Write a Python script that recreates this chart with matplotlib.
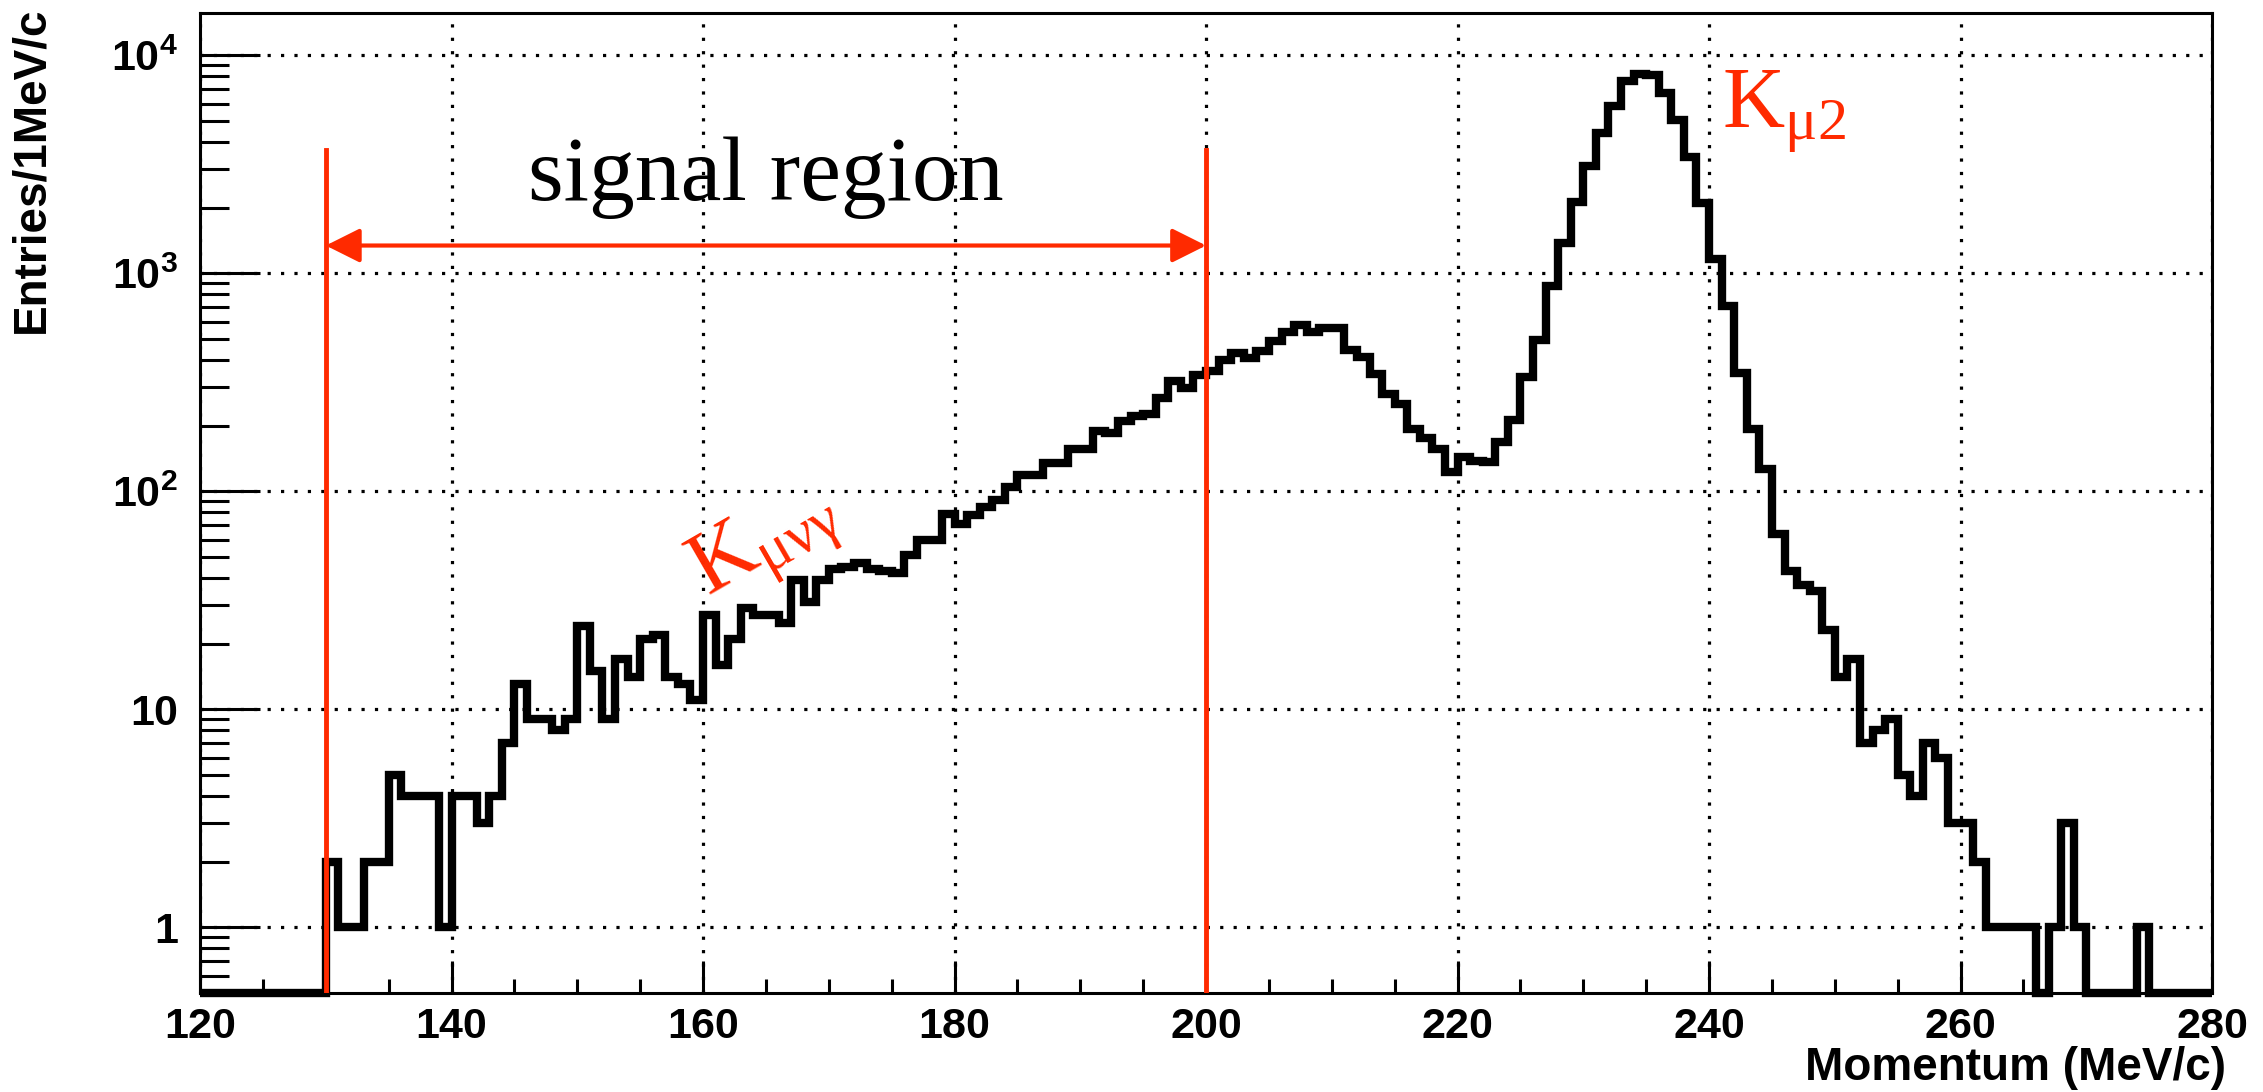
import numpy as np
import matplotlib
matplotlib.use('Agg')
import matplotlib.pyplot as plt
from matplotlib.ticker import LogLocator, NullFormatter, MultipleLocator

plt.rcParams['font.family'] = ['Liberation Sans', 'DejaVu Sans']
plt.rcParams['mathtext.fontset'] = 'custom'
plt.rcParams['mathtext.rm'] = 'Liberation Serif'
plt.rcParams['mathtext.it'] = 'Liberation Serif:italic'
plt.rcParams['mathtext.bf'] = 'Liberation Sans:bold'

# momentum histogram, 1 MeV/c bins from 120 to 280
bin_edges = np.arange(120, 281, 1)
counts = [
    0, 0, 0, 0, 0, 0, 0, 0, 0, 0,              # 120-129
    2, 1, 1, 2, 2, 5, 4, 4, 4, 1,              # 130-139
    4, 4, 3, 4, 7, 13, 9, 9, 8, 9,             # 140-149
    24, 15, 9, 17, 14, 21, 22, 14, 13, 11,     # 150-159
    27, 16, 21, 29, 27, 27, 25, 39, 31, 39,    # 160-169
    44, 45, 47, 44, 43, 42, 51, 60, 60, 79,    # 170-179
    71, 78, 85, 91, 105, 119, 119, 135, 135, 156,        # 180-189
    156, 189, 185, 210, 221, 225, 268, 321, 298, 340,    # 190-199
    357, 398, 430, 410, 440, 490, 536, 580, 540, 560,    # 200-209
    560, 443, 412, 345, 279, 251, 193, 175, 157, 122,    # 210-219
    143, 137, 136, 169, 213, 333, 496, 870, 1380, 2130,  # 220-229
    3090, 4380, 5860, 7580, 8210, 8080, 6710, 5070, 3400, 2100,  # 230-239
    1165, 710, 348, 193, 127, 64, 43, 37, 35, 23,        # 240-249
    14, 17, 7, 8, 9, 5, 4, 7, 6, 3,            # 250-259
    3, 2, 1, 1, 1, 1, 0, 1, 3, 1,              # 260-269
    0, 0, 0, 0, 1, 0, 0, 0, 0, 0,              # 270-279
]

signal_lo, signal_hi = 130, 200
y_ticks = [1, 10, 100, 1000, 10000]
y_ticklabels = ['1', '10', r'$\mathbf{10^{2}}$', r'$\mathbf{10^{3}}$', r'$\mathbf{10^{4}}$']
x_ticks = np.arange(120, 281, 20)

ymin, ymax = 0.5, 1.56e4
red = '#ff2a00'

fig = plt.figure(figsize=(22.63, 10.92), dpi=100)
ax = fig.add_axes([0.0884, 0.0907, 0.9775 - 0.0884, 0.988 - 0.0907])

# empty bins sit on the lower frame edge on a log axis
vals = np.where(np.array(counts) > 0, counts, ymin)
ax.stairs(vals, bin_edges, color='black', lw=6, baseline=None, clip_on=False, zorder=3)

ax.set_yscale('log')
ax.set_xlim(120, 280)
ax.set_ylim(ymin, ymax)

ax.set_xticks(x_ticks)
ax.set_xticklabels([str(v) for v in x_ticks])
ax.xaxis.set_minor_locator(MultipleLocator(5))
ax.set_yticks(y_ticks)
ax.set_yticklabels(y_ticklabels)
ax.yaxis.set_minor_locator(LogLocator(base=10, subs=np.arange(2, 10)))
ax.yaxis.set_minor_formatter(NullFormatter())

ax.tick_params(axis='both', which='both', direction='in', width=2.2,
               top=False, right=False, labelsize=31)
ax.tick_params(axis='x', which='major', length=23, pad=10)
ax.tick_params(axis='x', which='minor', length=10)
ax.tick_params(axis='y', which='major', length=43, pad=16)
ax.tick_params(axis='y', which='minor', length=21)
for lab in ax.get_xticklabels() + ax.get_yticklabels():
    lab.set_fontweight('bold')
for sp in ax.spines.values():
    sp.set_linewidth(2.2)

ax.grid(True, which='major', color='black', lw=2.3, linestyle=(0, (1, 3.2)), zorder=1)
ax.set_axisbelow(True)

ax.set_xlabel('Momentum (MeV/c)', fontsize=33, fontweight='bold', loc='right')
ax.xaxis.set_label_coords(1.007, -0.054)
ax.xaxis.label.set_va('top')
ax.set_ylabel('Entries/1MeV/c', fontsize=33, fontweight='bold', loc='top')
ax.yaxis.set_label_coords(-0.073, 1.007)

# signal region markers
ax.plot([signal_lo, signal_lo], [ymin, 3690], color=red, lw=3.5, zorder=4)
ax.plot([signal_hi, signal_hi], [ymin, 3690], color=red, lw=3.5, zorder=4)
ax.annotate('', xy=(signal_lo, 1340), xytext=(signal_hi, 1340),
            arrowprops=dict(arrowstyle='<|-|>,head_length=0.7,head_width=0.35',
                            color=red, lw=3, shrinkA=0, shrinkB=0,
                            mutation_scale=30), zorder=4)
ax.text(165, 2170, 'signal region', fontsize=66, family='Liberation Serif',
        ha='center', va='baseline', zorder=5)

ax.text(164.9, 58, r'$\mathrm{K_{μνγ}}$', fontsize=63, color=red,
        rotation=30, rotation_mode='anchor', ha='center', va='center', zorder=5)
ax.text(241.0, 4700, r'$\mathrm{K_{μ2}}$', fontsize=62, color=red,
        ha='left', va='baseline', zorder=5)

fig.savefig('out.png', dpi=100)
